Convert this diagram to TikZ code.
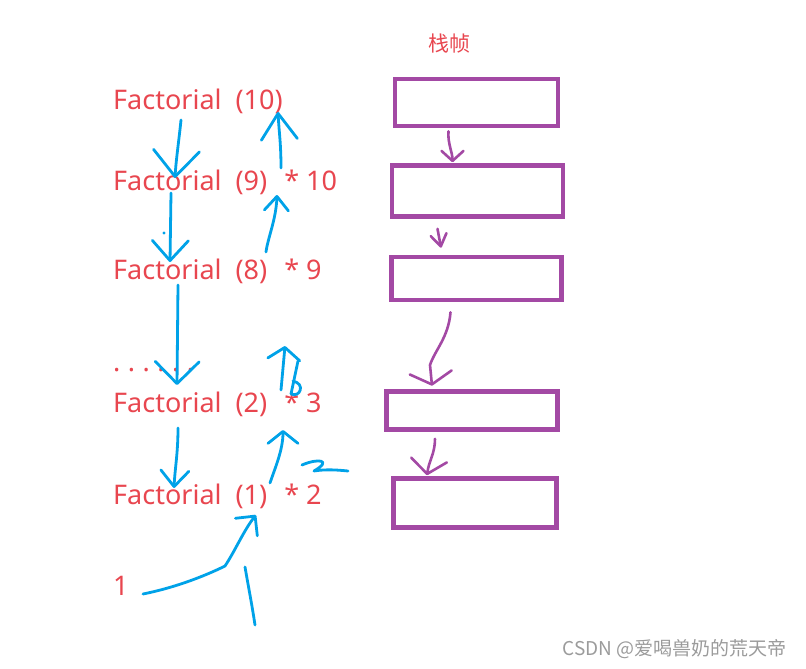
\documentclass[tikz,border=0pt]{standalone}
\usepackage{fontspec}
\setmainfont{Noto Sans}
\newfontfamily\cjk{Noto Sans CJK SC}
\usepackage{xcolor}
\definecolor{InkRed}{HTML}{E8464F}
\definecolor{PenBlue}{HTML}{00A2E8}
\definecolor{PenPurple}{HTML}{A349A4}
\definecolor{MarkGray}{HTML}{9B9B9B}
\usetikzlibrary{arrows.meta, positioning}

\newcommand{\lpar}{\hspace{14pt}(}
\newcommand{\rpar}{)\hspace{17pt}}
\newcommand{\dotgap}{\hspace{7.5pt}}

\begin{document}
\begin{tikzpicture}[x=1pt, y=-1pt,
    calltext/.style={InkRed, inner sep=0, anchor=base west, font=\fontsize{27}{32}\selectfont},
    frame/.style={draw=PenPurple, line width=4.6pt, inner sep=0},
    bluepen/.style={PenBlue, line width=2.8pt, line cap=round, line join=round},
    purplepen/.style={PenPurple, line width=2.6pt, line cap=round, line join=round},
    tip/.style 2 args={-{Straight Barb[length=#1pt, width=#2pt, round]}}]
        \useasboundingbox (0,0) rectangle (806,669);

        % the calls
        \node (fac10) [calltext] at (113,109) {Factorial\lpar10\rpar};
        \node (fac9) [calltext] at (113,190) {Factorial\lpar9\rpar* 10};
        \node (fac8) [calltext] at (113,279) {Factorial\lpar8\rpar* 9};
        \node (dots) [calltext] at (113,371) {.\dotgap.\dotgap.\dotgap.\dotgap.\dotgap.};
        \node (fac2) [calltext] at (113,412) {Factorial\lpar2\rpar* 3};
        \node (fac1) [calltext] at (113,504) {Factorial\lpar1\rpar* 2};
        \node (one) [calltext] at (113,595) {1};

        % the stack frames
        \node (stacktitle) [InkRed, font=\cjk\fontsize{21}{24}\selectfont] at (449,44) {栈帧};
        \node (frame1) [frame, minimum width=163pt, minimum height=47pt] at (476.5,102.5) {};
        \node (frame2) [frame, minimum width=171pt, minimum height=51pt] at (477.5,191) {};
        \node (frame3) [frame, minimum width=170pt, minimum height=43pt] at (476.5,278.5) {};
        \node (frame4) [frame, minimum width=171pt, minimum height=38pt] at (472,410.5) {};
        \node (frame5) [frame, minimum width=163pt, minimum height=49pt] at (475,503) {};

        % going down
        \draw[bluepen, tip={26}{46}] ([shift={(68,11)}]fac10.base west) .. controls +(-2,20) and +(1,-18) .. ([shift={(62,-12)}]fac9.base west);
        \draw[bluepen, tip={20}{36}] ([shift={(58,3)}]fac9.base west) -- ([shift={(57,-17)}]fac8.base west);
        \draw[bluepen, tip={22}{44}] ([shift={(65,6)}]fac8.base west) -- ([shift={(64,-27)}]fac2.base west);
        \draw[bluepen, tip={16}{28}] ([shift={(65,16)}]fac2.base west) .. controls +(0,25) and +(1,-20) .. ([shift={(61,-16)}]fac1.base west);

        % coming back up
        \draw[bluepen, tip={26}{36}] ([shift={(168,-22)}]fac9.base west) .. controls +(0,-25) and +(1,20) .. ([shift={(165,3)}]fac10.base west);
        \draw[bluepen, tip={14}{24}] ([shift={(153,-27)}]fac8.base west) .. controls +(2,-15) and +(-1,25) .. ([shift={(164,5)}]fac9.base west);
        \draw[bluepen, tip={12}{32}] ([shift={(168,-22)}]fac2.base west) -- ([shift={(172,67)}]fac8.base west);
        \draw[bluepen, tip={12}{30}] ([shift={(157,-21)}]fac1.base west) .. controls +(5,-15) and +(0,20) .. ([shift={(170,18)}]fac2.base west);
        \draw[bluepen, tip={14}{28}] ([shift={(30,-1)}]one.base west) .. controls +(40,-8) and +(-10,5) .. (225,566) .. controls +(10,-15) and +(-12,15) .. ([shift={(143,11)}]fac1.base west);

        % scribbles
        \draw[bluepen] (298,361) -- (291,394) .. controls (300,398) and (306,384) .. (293,381);
        \draw[bluepen] (302,465) .. controls (318,458) and (333,460) .. (314,471) .. controls (326,469) and (338,470) .. (348,471);
        \draw[bluepen] (245,567) .. controls (249,590) and (252,605) .. (255,625);
        \fill[PenBlue] (164,233) circle (1.6);

        % frame to frame
        \draw[purplepen, tip={10}{22}] ([shift={(-28,3)}]frame1.south) .. controls +(-1,12) and +(0,-10) .. ([shift={(-25,-1)}]frame2.north);
        \draw[purplepen, tip={12}{16}] ([shift={(-40,10)}]frame2.south) -- ([shift={(-35.5,-7)}]frame3.north);
        \draw[purplepen, tip={12}{42}] ([shift={(-26,10)}]frame3.south) .. controls +(-2,25) and +(5,-15) .. (430,365) -- ([shift={(-40,-3.5)}]frame4.north);
        \draw[purplepen, tip={14}{36}] ([shift={(-37,7)}]frame4.south) .. controls +(0,15) and +(2,-15) .. ([shift={(-48,-1)}]frame5.north);

        \node (watermark) [MarkGray, anchor=east, font=\cjk\fontsize{19}{22}\selectfont] at (790,649) {CSDN @爱喝兽奶的荒天帝};
    \end{tikzpicture}
\end{document}
